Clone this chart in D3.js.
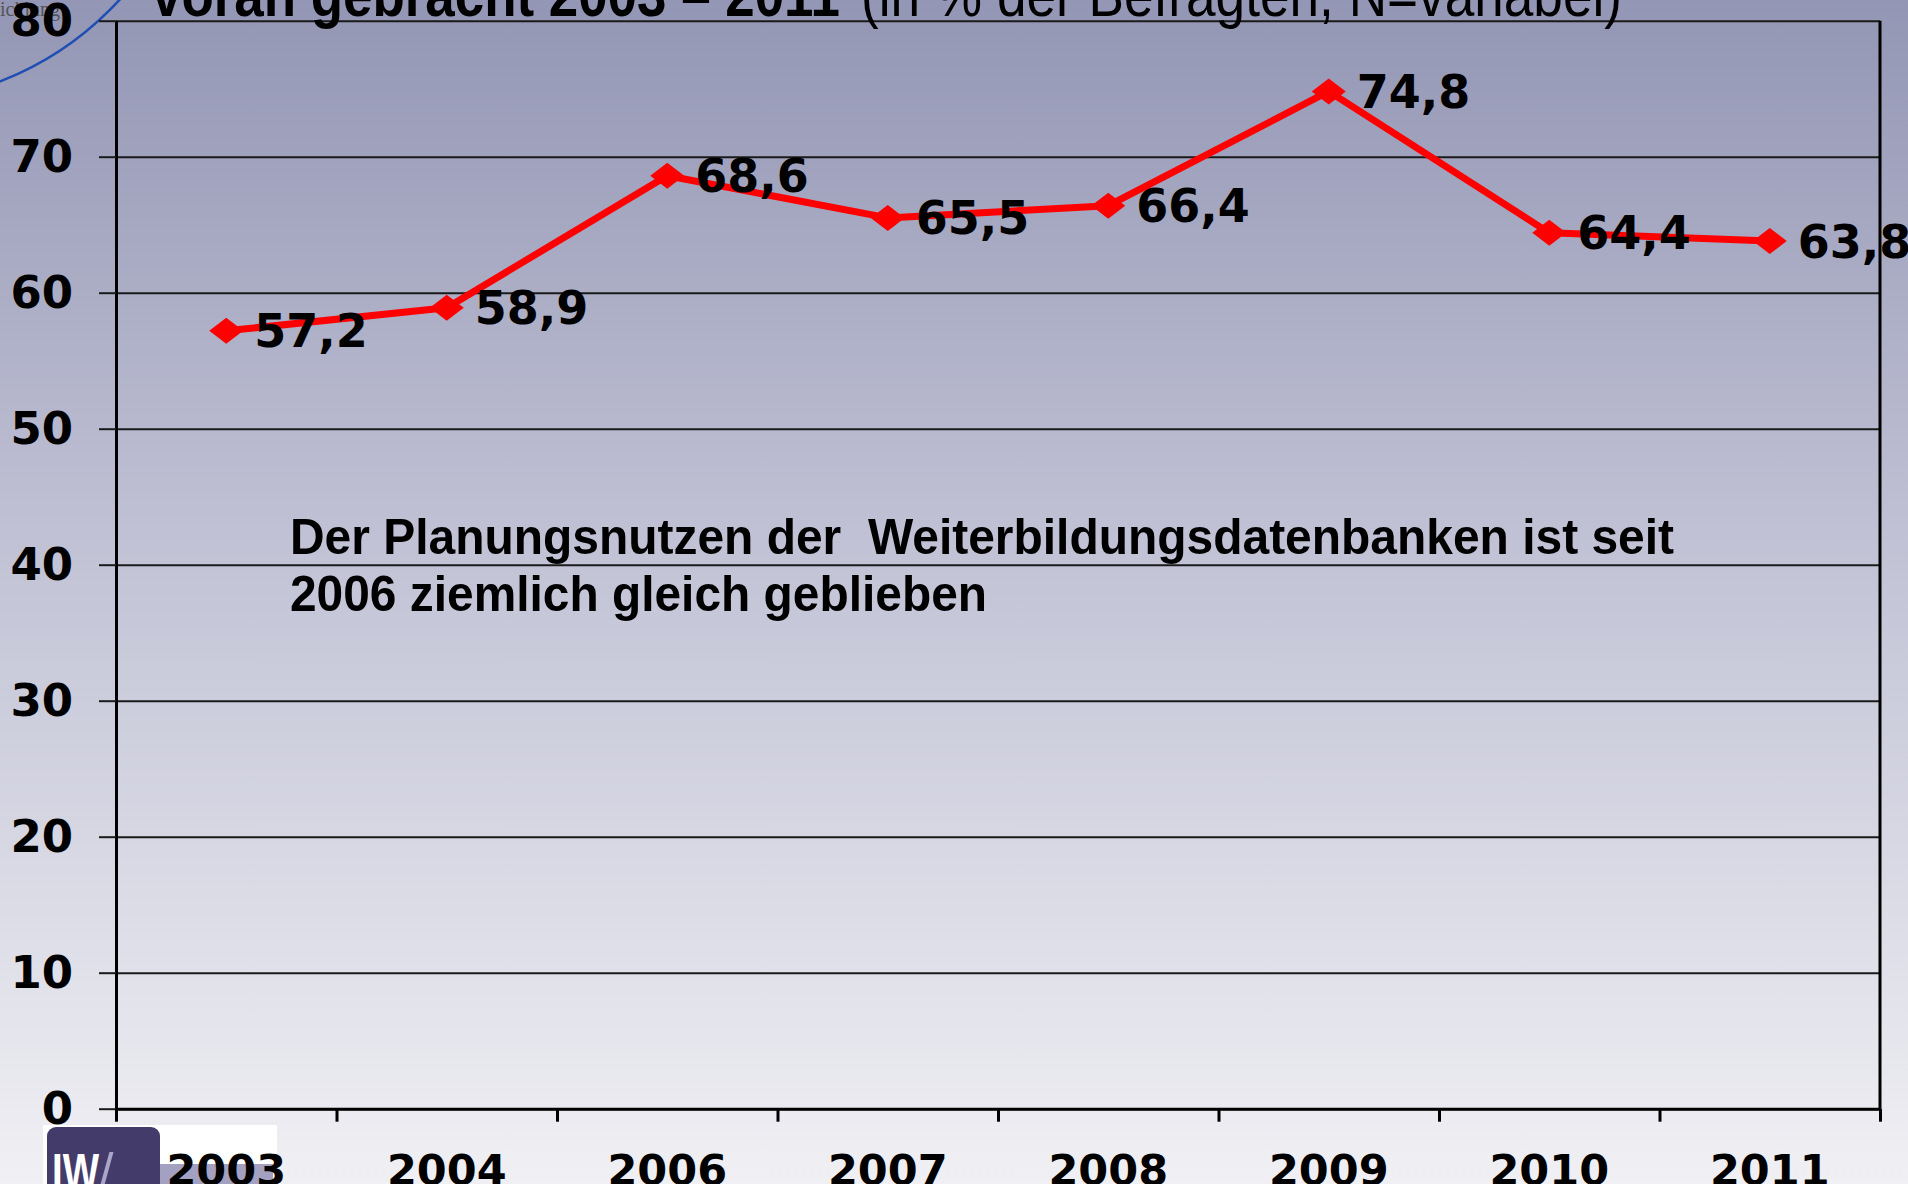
<!DOCTYPE html>
<html>
<head>
<meta charset="utf-8">
<script src="https://cdn.jsdelivr.net/npm/d3@7"></script>
<style>
  html, body { margin: 0; padding: 0; background: #f0f0f4; }
  svg { display: block; }
  text { white-space: pre; }
</style>
</head>
<body>
<svg id="chart" width="1908" height="1184"></svg>
<script>
// Survey years and share of respondents (%)
const years  = ["2003", "2004", "2006", "2007", "2008", "2009", "2010", "2011"];
const shares = [57.2, 58.9, 68.6, 65.5, 66.4, 74.8, 64.4, 63.8];
const valueLabels = ["57,2", "58,9", "68,6", "65,5", "66,4", "74,8", "64,4", "63,8"];
const yTicks = [0, 10, 20, 30, 40, 50, 60, 70, 80];

const titleBold = "voran gebracht 2003 \u2013 2011";
const titleRest = "(in % der Befragten, N=variabel)";
const noteLines = [
  "Der Planungsnutzen der  Weiterbildungsdatenbanken ist seit",
  "2006 ziemlich gleich geblieben"
];

const W = 1908, H = 1184;
const plot = { left: 116, right: 1880, top: 20.7, bottom: 1108.7 };
const numFont = "'DejaVu Sans', sans-serif";
const textFont = "'Liberation Sans Narrow', 'Liberation Sans', Arial, sans-serif";

const svg = d3.select("#chart");

// slide background: vertical lavender-to-white gradient
const defs = svg.append("defs");
const grad = defs.append("linearGradient")
  .attr("id", "bg").attr("x1", 0).attr("y1", 0).attr("x2", 0).attr("y2", 1);
grad.append("stop").attr("offset", "0%").attr("stop-color", "#9396b4");
grad.append("stop").attr("offset", "45%").attr("stop-color", "#c0c1d4");
grad.append("stop").attr("offset", "100%").attr("stop-color", "#f0f0f4");
svg.append("rect").attr("width", W).attr("height", H).attr("fill", "url(#bg)");

// decorative arc and running header in the corner
svg.append("circle")
  .attr("cx", -115).attr("cy", -215).attr("r", 318)
  .attr("fill", "none").attr("stroke", "#1f4fb2").attr("stroke-width", 2.5);
svg.append("text")
  .attr("x", 60).attr("y", 16).attr("text-anchor", "end")
  .attr("font-family", "'Liberation Serif', serif").attr("font-size", 20)
  .attr("fill", "#555").text("Entwicklung");

// scales
const x = d3.scaleBand().domain(years).range([plot.left, plot.right]).padding(0);
const xEdge = d3.scaleLinear().domain([0, years.length]).range([plot.left, plot.right]);
const y = d3.scaleLinear().domain([0, 80]).range([plot.bottom, plot.top]);
const cx = d => x(d) + x.bandwidth() / 2;

// horizontal gridlines
const grid = svg.append("g")
  .attr("transform", `translate(${plot.left},0)`)
  .call(d3.axisLeft(y).tickValues(yTicks).tickSize(-(plot.right - plot.left)).tickFormat(""));
grid.select(".domain").remove();
grid.selectAll(".tick line").attr("stroke", "#1a1a1a").attr("stroke-width", 2);

// y axis with labels
const yAxis = svg.append("g")
  .attr("transform", `translate(${plot.left},0)`)
  .call(d3.axisLeft(y).tickValues(yTicks).tickSize(17).tickSizeOuter(0).tickPadding(26));
yAxis.select(".domain").attr("stroke", "#000").attr("stroke-width", 3);
yAxis.selectAll(".tick line").attr("stroke", "#1a1a1a").attr("stroke-width", 2);
yAxis.selectAll(".tick text")
  .attr("font-family", numFont).attr("font-weight", "bold")
  .attr("font-size", 45).attr("fill", "#000");

// right frame line
svg.append("line")
  .attr("x1", plot.right).attr("x2", plot.right)
  .attr("y1", plot.top).attr("y2", plot.bottom)
  .attr("stroke", "#000").attr("stroke-width", 3);

// category boundary ticks along the bottom
const xTicks = svg.append("g")
  .attr("transform", `translate(0,${plot.bottom})`)
  .call(d3.axisBottom(xEdge).tickValues(d3.range(years.length + 1)).tickSize(13).tickSizeOuter(0).tickFormat(""));
xTicks.select(".domain").attr("stroke", "#000").attr("stroke-width", 3);
xTicks.selectAll(".tick line").attr("stroke", "#000").attr("stroke-width", 3);

// institute logo in the lower left corner
const logo = svg.append("g");
logo.append("rect").attr("x", 43).attr("y", 1125).attr("width", 234).attr("height", 70).attr("fill", "#ffffff");
logo.append("rect").attr("x", 160).attr("y", 1164).attr("width", 113).attr("height", 30).attr("fill", "#a3a0c1");
logo.append("rect").attr("x", 47).attr("y", 1127).attr("width", 113).attr("height", 80).attr("rx", 9).attr("fill", "#433c6b");
logo.append("text").attr("x", 52).attr("y", 1190)
  .attr("font-family", "'Liberation Sans', Arial, sans-serif").attr("font-weight", "bold")
  .attr("font-size", 52).attr("fill", "#ffffff")
  .attr("textLength", 47).attr("lengthAdjust", "spacingAndGlyphs").text("IW");
logo.append("text").attr("x", 99).attr("y", 1190)
  .attr("font-family", "'Liberation Sans', Arial, sans-serif")
  .attr("font-size", 52).attr("fill", "#a9a6c7").text("/");

// year labels
const xAxis = svg.append("g")
  .attr("transform", `translate(0,${plot.bottom})`)
  .call(d3.axisBottom(x).tickSize(0).tickPadding(46));
xAxis.select(".domain").remove();
xAxis.selectAll(".tick text")
  .attr("font-family", numFont).attr("font-weight", "bold")
  .attr("font-size", 43).attr("fill", "#000");

// title (top edge of the slide)
svg.append("text")
  .attr("x", 152).attr("y", 16)
  .attr("font-family", textFont).attr("font-weight", "bold").attr("font-size", 62)
  .attr("textLength", 688).attr("lengthAdjust", "spacingAndGlyphs")
  .attr("fill", "#000").text(titleBold);
svg.append("text")
  .attr("x", 861).attr("y", 16)
  .attr("font-family", textFont).attr("font-size", 62)
  .attr("textLength", 761).attr("lengthAdjust", "spacingAndGlyphs")
  .attr("fill", "#000").text(titleRest);

// annotation
const noteX = 290, noteY = [554, 611], noteW = [1384, 697];
noteLines.forEach((t, i) => {
  svg.append("text")
    .attr("x", noteX).attr("y", noteY[i])
    .attr("font-family", textFont).attr("font-weight", "bold").attr("font-size", 50)
    .attr("textLength", noteW[i]).attr("lengthAdjust", "spacingAndGlyphs")
    .attr("fill", "#000").text(t);
});

// data series
const data = years.map((yr, i) => ({ yr, v: shares[i], label: valueLabels[i] }));

svg.append("path")
  .datum(data)
  .attr("fill", "none").attr("stroke", "#ff0000").attr("stroke-width", 7)
  .attr("stroke-linejoin", "round")
  .attr("d", d3.line().x(d => cx(d.yr)).y(d => y(d.v)));

const diamond = "M0,-13L17,0L0,13L-17,0Z";
svg.append("g").selectAll("path")
  .data(data).join("path")
  .attr("d", diamond)
  .attr("transform", d => `translate(${cx(d.yr)},${y(d.v)})`)
  .attr("fill", "#ff0000");

svg.append("g").selectAll("text")
  .data(data).join("text")
  .attr("x", d => cx(d.yr) + 28)
  .attr("y", d => y(d.v))
  .attr("dy", "0.36em")
  .attr("font-family", numFont).attr("font-weight", "bold").attr("font-size", 46)
  .attr("fill", "#000")
  .text(d => d.label);
</script>
</body>
</html>
